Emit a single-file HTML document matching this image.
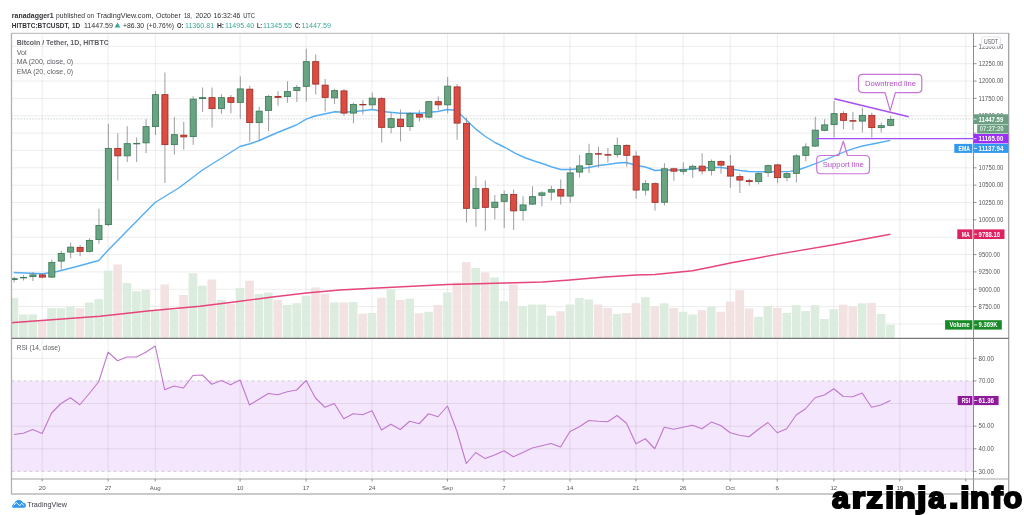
<!DOCTYPE html>
<html><head><meta charset="utf-8"><title>BTCUSDT</title>
<style>html,body{margin:0;padding:0;background:#fff;}svg{display:block;filter:blur(0.45px);}text{font-family:"Liberation Sans",sans-serif;}</style></head><body>
<svg width="1024" height="515" viewBox="0 0 1024 515">
<rect width="1024" height="515" fill="#fff"/>
<defs><clipPath id="cm"><rect x="11.5" y="33.3" width="962.0" height="305.09999999999997"/></clipPath><clipPath id="cr"><rect x="11.5" y="338.4" width="962.0" height="140.60000000000002"/></clipPath></defs>
<rect x="11.5" y="380.9" width="962.0" height="90.5" fill="#f4e6fc"/>
<path d="M42.15 33.3V479.0 M108.12 33.3V479.0 M155.25 33.3V479.0 M240.07 33.3V479.0 M306.05 33.3V479.0 M372.02 33.3V479.0 M447.42 33.3V479.0 M503.97 33.3V479.0 M569.95 33.3V479.0 M635.92 33.3V479.0 M683.05 33.3V479.0 M730.17 33.3V479.0 M777.30 33.3V479.0 M833.85 33.3V479.0 M899.82 33.3V479.0 M965.80 33.3V479.0 M11.5 323.95H973.5 M11.5 306.60H973.5 M11.5 289.25H973.5 M11.5 271.90H973.5 M11.5 254.55H973.5 M11.5 237.20H973.5 M11.5 219.85H973.5 M11.5 202.50H973.5 M11.5 185.15H973.5 M11.5 167.80H973.5 M11.5 150.45H973.5 M11.5 133.10H973.5 M11.5 115.75H973.5 M11.5 98.40H973.5 M11.5 81.05H973.5 M11.5 63.70H973.5 M11.5 46.35H973.5 M11.5 358.27H973.5 M11.5 403.52H973.5 M11.5 426.15H973.5 M11.5 448.77H973.5" stroke="#000" stroke-opacity="0.075" stroke-width="1" fill="none"/>
<path d="M11.5 380.9H973.5M11.5 471.4H973.5" stroke="#c4c4cc" stroke-width="0.8" stroke-dasharray="3 3" fill="none"/>
<path d="M11.5 118.9H973.5" stroke="#a3bdb0" stroke-width="0.8" stroke-dasharray="1.5 1.5" fill="none" opacity="0.7"/>
<g clip-path="url(#cm)">
<rect x="9.57" y="298.00" width="8.6" height="40.40" fill="#d9eadc" fill-opacity="0.92"/>
<rect x="19.00" y="314.50" width="8.6" height="23.90" fill="#d9eadc" fill-opacity="0.92"/>
<rect x="28.42" y="314.50" width="8.6" height="23.90" fill="#d9eadc" fill-opacity="0.92"/>
<rect x="37.85" y="320.50" width="8.6" height="17.90" fill="#f1dfe0" fill-opacity="0.92"/>
<rect x="47.27" y="308.25" width="8.6" height="30.15" fill="#d9eadc" fill-opacity="0.92"/>
<rect x="56.70" y="308.25" width="8.6" height="30.15" fill="#d9eadc" fill-opacity="0.92"/>
<rect x="66.12" y="306.75" width="8.6" height="31.65" fill="#d9eadc" fill-opacity="0.92"/>
<rect x="75.55" y="308.25" width="8.6" height="30.15" fill="#f1dfe0" fill-opacity="0.92"/>
<rect x="84.97" y="302.50" width="8.6" height="35.90" fill="#d9eadc" fill-opacity="0.92"/>
<rect x="94.40" y="299.25" width="8.6" height="39.15" fill="#d9eadc" fill-opacity="0.92"/>
<rect x="103.82" y="270.75" width="8.6" height="67.65" fill="#d9eadc" fill-opacity="0.92"/>
<rect x="113.25" y="264.50" width="8.6" height="73.90" fill="#f1dfe0" fill-opacity="0.92"/>
<rect x="122.67" y="283.00" width="8.6" height="55.40" fill="#d9eadc" fill-opacity="0.92"/>
<rect x="132.10" y="291.25" width="8.6" height="47.15" fill="#d9eadc" fill-opacity="0.92"/>
<rect x="141.52" y="290.00" width="8.6" height="48.40" fill="#d9eadc" fill-opacity="0.92"/>
<rect x="150.95" y="311.00" width="8.6" height="27.40" fill="#d9eadc" fill-opacity="0.92"/>
<rect x="160.37" y="284.50" width="8.6" height="53.90" fill="#f1dfe0" fill-opacity="0.92"/>
<rect x="169.80" y="310.00" width="8.6" height="28.40" fill="#d9eadc" fill-opacity="0.92"/>
<rect x="179.22" y="295.00" width="8.6" height="43.40" fill="#f1dfe0" fill-opacity="0.92"/>
<rect x="188.65" y="273.25" width="8.6" height="65.15" fill="#d9eadc" fill-opacity="0.92"/>
<rect x="198.07" y="285.75" width="8.6" height="52.65" fill="#d9eadc" fill-opacity="0.92"/>
<rect x="207.50" y="279.50" width="8.6" height="58.90" fill="#f1dfe0" fill-opacity="0.92"/>
<rect x="216.92" y="300.00" width="8.6" height="38.40" fill="#d9eadc" fill-opacity="0.92"/>
<rect x="226.35" y="303.75" width="8.6" height="34.65" fill="#f1dfe0" fill-opacity="0.92"/>
<rect x="235.77" y="288.00" width="8.6" height="50.40" fill="#d9eadc" fill-opacity="0.92"/>
<rect x="245.20" y="280.75" width="8.6" height="57.65" fill="#f1dfe0" fill-opacity="0.92"/>
<rect x="254.62" y="294.00" width="8.6" height="44.40" fill="#d9eadc" fill-opacity="0.92"/>
<rect x="264.05" y="292.50" width="8.6" height="45.90" fill="#d9eadc" fill-opacity="0.92"/>
<rect x="273.47" y="300.00" width="8.6" height="38.40" fill="#f1dfe0" fill-opacity="0.92"/>
<rect x="282.90" y="305.00" width="8.6" height="33.40" fill="#d9eadc" fill-opacity="0.92"/>
<rect x="292.32" y="303.25" width="8.6" height="35.15" fill="#d9eadc" fill-opacity="0.92"/>
<rect x="301.75" y="295.75" width="8.6" height="42.65" fill="#d9eadc" fill-opacity="0.92"/>
<rect x="311.17" y="287.50" width="8.6" height="50.90" fill="#f1dfe0" fill-opacity="0.92"/>
<rect x="320.60" y="293.75" width="8.6" height="44.65" fill="#f1dfe0" fill-opacity="0.92"/>
<rect x="330.02" y="302.50" width="8.6" height="35.90" fill="#d9eadc" fill-opacity="0.92"/>
<rect x="339.45" y="302.50" width="8.6" height="35.90" fill="#f1dfe0" fill-opacity="0.92"/>
<rect x="348.87" y="302.00" width="8.6" height="36.40" fill="#d9eadc" fill-opacity="0.92"/>
<rect x="358.30" y="313.75" width="8.6" height="24.65" fill="#f1dfe0" fill-opacity="0.92"/>
<rect x="367.72" y="313.00" width="8.6" height="25.40" fill="#d9eadc" fill-opacity="0.92"/>
<rect x="377.15" y="297.75" width="8.6" height="40.65" fill="#f1dfe0" fill-opacity="0.92"/>
<rect x="386.57" y="289.50" width="8.6" height="48.90" fill="#d9eadc" fill-opacity="0.92"/>
<rect x="396.00" y="300.00" width="8.6" height="38.40" fill="#f1dfe0" fill-opacity="0.92"/>
<rect x="405.42" y="298.75" width="8.6" height="39.65" fill="#d9eadc" fill-opacity="0.92"/>
<rect x="414.85" y="313.25" width="8.6" height="25.15" fill="#f1dfe0" fill-opacity="0.92"/>
<rect x="424.27" y="311.75" width="8.6" height="26.65" fill="#d9eadc" fill-opacity="0.92"/>
<rect x="433.70" y="305.00" width="8.6" height="33.40" fill="#f1dfe0" fill-opacity="0.92"/>
<rect x="443.12" y="292.50" width="8.6" height="45.90" fill="#d9eadc" fill-opacity="0.92"/>
<rect x="452.55" y="282.50" width="8.6" height="55.90" fill="#f1dfe0" fill-opacity="0.92"/>
<rect x="461.97" y="262.00" width="8.6" height="76.40" fill="#f1dfe0" fill-opacity="0.92"/>
<rect x="471.40" y="268.00" width="8.6" height="70.40" fill="#d9eadc" fill-opacity="0.92"/>
<rect x="480.82" y="272.50" width="8.6" height="65.90" fill="#f1dfe0" fill-opacity="0.92"/>
<rect x="490.25" y="277.50" width="8.6" height="60.90" fill="#d9eadc" fill-opacity="0.92"/>
<rect x="499.67" y="301.25" width="8.6" height="37.15" fill="#d9eadc" fill-opacity="0.92"/>
<rect x="509.10" y="284.50" width="8.6" height="53.90" fill="#f1dfe0" fill-opacity="0.92"/>
<rect x="518.52" y="306.25" width="8.6" height="32.15" fill="#d9eadc" fill-opacity="0.92"/>
<rect x="527.95" y="304.50" width="8.6" height="33.90" fill="#d9eadc" fill-opacity="0.92"/>
<rect x="537.38" y="304.50" width="8.6" height="33.90" fill="#d9eadc" fill-opacity="0.92"/>
<rect x="546.80" y="315.75" width="8.6" height="22.65" fill="#d9eadc" fill-opacity="0.92"/>
<rect x="556.23" y="311.25" width="8.6" height="27.15" fill="#f1dfe0" fill-opacity="0.92"/>
<rect x="565.65" y="304.50" width="8.6" height="33.90" fill="#d9eadc" fill-opacity="0.92"/>
<rect x="575.08" y="298.00" width="8.6" height="40.40" fill="#d9eadc" fill-opacity="0.92"/>
<rect x="584.50" y="299.50" width="8.6" height="38.90" fill="#d9eadc" fill-opacity="0.92"/>
<rect x="593.92" y="304.50" width="8.6" height="33.90" fill="#f1dfe0" fill-opacity="0.92"/>
<rect x="603.35" y="308.00" width="8.6" height="30.40" fill="#f1dfe0" fill-opacity="0.92"/>
<rect x="612.77" y="314.00" width="8.6" height="24.40" fill="#d9eadc" fill-opacity="0.92"/>
<rect x="622.20" y="313.00" width="8.6" height="25.40" fill="#f1dfe0" fill-opacity="0.92"/>
<rect x="631.62" y="303.25" width="8.6" height="35.15" fill="#f1dfe0" fill-opacity="0.92"/>
<rect x="641.05" y="297.25" width="8.6" height="41.15" fill="#d9eadc" fill-opacity="0.92"/>
<rect x="650.48" y="306.50" width="8.6" height="31.90" fill="#f1dfe0" fill-opacity="0.92"/>
<rect x="659.90" y="303.25" width="8.6" height="35.15" fill="#d9eadc" fill-opacity="0.92"/>
<rect x="669.33" y="308.00" width="8.6" height="30.40" fill="#f1dfe0" fill-opacity="0.92"/>
<rect x="678.75" y="311.75" width="8.6" height="26.65" fill="#d9eadc" fill-opacity="0.92"/>
<rect x="688.17" y="314.50" width="8.6" height="23.90" fill="#d9eadc" fill-opacity="0.92"/>
<rect x="697.60" y="310.20" width="8.6" height="28.20" fill="#f1dfe0" fill-opacity="0.92"/>
<rect x="707.02" y="306.80" width="8.6" height="31.60" fill="#d9eadc" fill-opacity="0.92"/>
<rect x="716.45" y="311.75" width="8.6" height="26.65" fill="#f1dfe0" fill-opacity="0.92"/>
<rect x="725.88" y="301.60" width="8.6" height="36.80" fill="#f1dfe0" fill-opacity="0.92"/>
<rect x="735.30" y="290.30" width="8.6" height="48.10" fill="#f1dfe0" fill-opacity="0.92"/>
<rect x="744.73" y="308.50" width="8.6" height="29.90" fill="#f1dfe0" fill-opacity="0.92"/>
<rect x="754.15" y="316.80" width="8.6" height="21.60" fill="#d9eadc" fill-opacity="0.92"/>
<rect x="763.58" y="306.00" width="8.6" height="32.40" fill="#d9eadc" fill-opacity="0.92"/>
<rect x="773.00" y="308.00" width="8.6" height="30.40" fill="#f1dfe0" fill-opacity="0.92"/>
<rect x="782.42" y="313.00" width="8.6" height="25.40" fill="#d9eadc" fill-opacity="0.92"/>
<rect x="791.85" y="305.20" width="8.6" height="33.20" fill="#d9eadc" fill-opacity="0.92"/>
<rect x="801.27" y="311.00" width="8.6" height="27.40" fill="#d9eadc" fill-opacity="0.92"/>
<rect x="810.70" y="305.20" width="8.6" height="33.20" fill="#d9eadc" fill-opacity="0.92"/>
<rect x="820.12" y="319.00" width="8.6" height="19.40" fill="#d9eadc" fill-opacity="0.92"/>
<rect x="829.55" y="309.20" width="8.6" height="29.20" fill="#d9eadc" fill-opacity="0.92"/>
<rect x="838.98" y="304.70" width="8.6" height="33.70" fill="#f1dfe0" fill-opacity="0.92"/>
<rect x="848.40" y="306.70" width="8.6" height="31.70" fill="#f1dfe0" fill-opacity="0.92"/>
<rect x="857.83" y="303.40" width="8.6" height="35.00" fill="#d9eadc" fill-opacity="0.92"/>
<rect x="867.25" y="302.90" width="8.6" height="35.50" fill="#f1dfe0" fill-opacity="0.92"/>
<rect x="876.68" y="314.00" width="8.6" height="24.40" fill="#d9eadc" fill-opacity="0.92"/>
<rect x="886.10" y="324.90" width="8.6" height="13.50" fill="#d9eadc" fill-opacity="0.92"/>
</g>
<g clip-path="url(#cm)">
<polyline points="12,322.7 13.75,322.5 100,316.25 150,310.75 200,306.25 240,301.25 272.5,297 306.25,293 340,290 372.5,288.25 407.5,286.5 447.5,284.5 477.5,283.75 505,283 542.5,282 570,280 605,277 636.25,275 655,274.5 692.5,270.75 711.25,267 730.3,263 777,254.4 833.8,244.8 890.4,234.2" fill="none" stroke="#e6457b" stroke-width="1.4" stroke-linejoin="round"/>
<polyline points="13.75,272.5 30,273.2 42.5,273.75 55,272 75,267 98.75,260.5 108.25,250 155,202.5 178.75,188 202.5,170 221.25,158.25 240,146.5 250,143.75 258.75,140.75 277.5,132.5 296.25,125 306.25,119.1 315,116 335,111.75 345,112.25 362.5,110.75 372.5,109.5 382.5,111.5 400,113.25 410,113.25 420,113.25 437.5,111.5 447.5,109.5 455,110.25 460.6,114.4 466.25,120 476.25,129.4 485,136.25 495,142.5 505,147.5 515,153.1 525,157.75 535,161.25 543.75,164 551.25,166.75 560.75,169.5 570,169.5 579.25,168.75 588.75,167.5 598.75,165.5 607.5,164.5 617.5,163 626.25,162.5 636.25,165.5 645.5,167 655,170.5 664.25,170 673.75,170 683,169.8 692.5,169 702.5,168 711.25,167.5 721.25,167.5 730,168.75 740,170.5 748.75,171.5 758.75,171.75 768.75,171.75 777.5,171.75 790,171.4 799.4,169.5 807.5,166.6 816.9,163.2 827.5,158.8 838.75,154.1 847.5,150.7 855,148.2 862.5,146 876.25,143.2 890.4,140.4" fill="none" stroke="#55adf5" stroke-width="1.4" stroke-linejoin="round"/>
<path d="M14.12 276.75V282.5" stroke="#85858a" stroke-width="0.8"/>
<rect x="11.07" y="278.65" width="6.1" height="0.95" fill="#69a482" stroke="#3c7a57" stroke-width="0.85"/>
<path d="M23.55 275.0V280.5" stroke="#85858a" stroke-width="0.8"/>
<rect x="20.50" y="277.4" width="6.1" height="0.50" fill="#3c7a57" stroke="#3c7a57" stroke-width="0.85"/>
<path d="M32.97 272.0V281.0" stroke="#85858a" stroke-width="0.8"/>
<rect x="29.92" y="274.9" width="6.1" height="1.70" fill="#69a482" stroke="#3c7a57" stroke-width="0.85"/>
<path d="M42.40 274.0V278.5" stroke="#85858a" stroke-width="0.8"/>
<rect x="39.35" y="274.9" width="6.1" height="2.20" fill="#db4d42" stroke="#a02e27" stroke-width="0.85"/>
<path d="M51.82 259.5V278.0" stroke="#85858a" stroke-width="0.8"/>
<rect x="48.77" y="262.4" width="6.1" height="14.70" fill="#69a482" stroke="#3c7a57" stroke-width="0.85"/>
<path d="M61.25 250.75V269.5" stroke="#85858a" stroke-width="0.8"/>
<rect x="58.20" y="253.4" width="6.1" height="7.70" fill="#69a482" stroke="#3c7a57" stroke-width="0.85"/>
<path d="M70.67 242.5V258.25" stroke="#85858a" stroke-width="0.8"/>
<rect x="67.62" y="247.15" width="6.1" height="4.95" fill="#69a482" stroke="#3c7a57" stroke-width="0.85"/>
<path d="M80.10 245.0V256.25" stroke="#85858a" stroke-width="0.8"/>
<rect x="77.05" y="247.4" width="6.1" height="3.95" fill="#db4d42" stroke="#a02e27" stroke-width="0.85"/>
<path d="M89.52 238.25V252.5" stroke="#85858a" stroke-width="0.8"/>
<rect x="86.47" y="240.4" width="6.1" height="10.95" fill="#69a482" stroke="#3c7a57" stroke-width="0.85"/>
<path d="M98.95 208.75V243.75" stroke="#85858a" stroke-width="0.8"/>
<rect x="95.90" y="225.4" width="6.1" height="14.20" fill="#69a482" stroke="#3c7a57" stroke-width="0.85"/>
<path d="M108.37 123.75V226.0" stroke="#85858a" stroke-width="0.8"/>
<rect x="105.32" y="148.4" width="6.1" height="76.20" fill="#69a482" stroke="#3c7a57" stroke-width="0.85"/>
<path d="M117.80 133.25V180.5" stroke="#85858a" stroke-width="0.8"/>
<rect x="114.75" y="148.4" width="6.1" height="7.45" fill="#db4d42" stroke="#a02e27" stroke-width="0.85"/>
<path d="M127.22 126.25V162.0" stroke="#85858a" stroke-width="0.8"/>
<rect x="124.17" y="143.65" width="6.1" height="12.20" fill="#69a482" stroke="#3c7a57" stroke-width="0.85"/>
<path d="M136.65 137.5V162.0" stroke="#85858a" stroke-width="0.8"/>
<rect x="133.60" y="143.4" width="6.1" height="0.50" fill="#3c7a57" stroke="#3c7a57" stroke-width="0.85"/>
<path d="M146.07 119.25V153.0" stroke="#85858a" stroke-width="0.8"/>
<rect x="143.02" y="126.65" width="6.1" height="16.20" fill="#69a482" stroke="#3c7a57" stroke-width="0.85"/>
<path d="M155.50 91.25V135.0" stroke="#85858a" stroke-width="0.8"/>
<rect x="152.45" y="94.65" width="6.1" height="31.95" fill="#69a482" stroke="#3c7a57" stroke-width="0.85"/>
<path d="M164.92 72.5V183.0" stroke="#85858a" stroke-width="0.8"/>
<rect x="161.87" y="94.65" width="6.1" height="49.95" fill="#db4d42" stroke="#a02e27" stroke-width="0.85"/>
<path d="M174.35 117.0V154.5" stroke="#85858a" stroke-width="0.8"/>
<rect x="171.30" y="134.65" width="6.1" height="9.95" fill="#69a482" stroke="#3c7a57" stroke-width="0.85"/>
<path d="M183.77 121.75V149.5" stroke="#85858a" stroke-width="0.8"/>
<rect x="180.72" y="135.15" width="6.1" height="1.70" fill="#db4d42" stroke="#a02e27" stroke-width="0.85"/>
<path d="M193.20 96.25V145.0" stroke="#85858a" stroke-width="0.8"/>
<rect x="190.15" y="99.15" width="6.1" height="37.45" fill="#69a482" stroke="#3c7a57" stroke-width="0.85"/>
<path d="M202.62 87.5V112.0" stroke="#85858a" stroke-width="0.8"/>
<rect x="199.57" y="97.65" width="6.1" height="0.95" fill="#69a482" stroke="#3c7a57" stroke-width="0.85"/>
<path d="M212.05 87.5V127.5" stroke="#85858a" stroke-width="0.8"/>
<rect x="209.00" y="97.65" width="6.1" height="10.95" fill="#db4d42" stroke="#a02e27" stroke-width="0.85"/>
<path d="M221.47 94.25V113.75" stroke="#85858a" stroke-width="0.8"/>
<rect x="218.42" y="97.65" width="6.1" height="10.95" fill="#69a482" stroke="#3c7a57" stroke-width="0.85"/>
<path d="M230.90 95.0V113.25" stroke="#85858a" stroke-width="0.8"/>
<rect x="227.85" y="97.65" width="6.1" height="4.70" fill="#db4d42" stroke="#a02e27" stroke-width="0.85"/>
<path d="M240.32 76.25V118.75" stroke="#85858a" stroke-width="0.8"/>
<rect x="237.27" y="88.9" width="6.1" height="13.45" fill="#69a482" stroke="#3c7a57" stroke-width="0.85"/>
<path d="M249.75 85.75V141.75" stroke="#85858a" stroke-width="0.8"/>
<rect x="246.70" y="89.15" width="6.1" height="33.45" fill="#db4d42" stroke="#a02e27" stroke-width="0.85"/>
<path d="M259.17 107.0V140.5" stroke="#85858a" stroke-width="0.8"/>
<rect x="256.12" y="111.15" width="6.1" height="11.45" fill="#69a482" stroke="#3c7a57" stroke-width="0.85"/>
<path d="M268.60 95.0V131.25" stroke="#85858a" stroke-width="0.8"/>
<rect x="265.55" y="96.4" width="6.1" height="13.95" fill="#69a482" stroke="#3c7a57" stroke-width="0.85"/>
<path d="M278.02 91.25V105.75" stroke="#85858a" stroke-width="0.8"/>
<rect x="274.97" y="96.4" width="6.1" height="0.95" fill="#db4d42" stroke="#a02e27" stroke-width="0.85"/>
<path d="M287.45 81.25V102.75" stroke="#85858a" stroke-width="0.8"/>
<rect x="284.40" y="91.65" width="6.1" height="4.95" fill="#69a482" stroke="#3c7a57" stroke-width="0.85"/>
<path d="M296.87 85.0V102.0" stroke="#85858a" stroke-width="0.8"/>
<rect x="293.82" y="87.4" width="6.1" height="3.20" fill="#69a482" stroke="#3c7a57" stroke-width="0.85"/>
<path d="M306.30 48.75V101.5" stroke="#85858a" stroke-width="0.8"/>
<rect x="303.25" y="61.65" width="6.1" height="24.70" fill="#69a482" stroke="#3c7a57" stroke-width="0.85"/>
<path d="M315.72 54.5V94.5" stroke="#85858a" stroke-width="0.8"/>
<rect x="312.67" y="61.65" width="6.1" height="22.45" fill="#db4d42" stroke="#a02e27" stroke-width="0.85"/>
<path d="M325.15 79.0V111.5" stroke="#85858a" stroke-width="0.8"/>
<rect x="322.10" y="85.15" width="6.1" height="12.20" fill="#db4d42" stroke="#a02e27" stroke-width="0.85"/>
<path d="M334.57 88.75V104.0" stroke="#85858a" stroke-width="0.8"/>
<rect x="331.52" y="90.65" width="6.1" height="7.20" fill="#69a482" stroke="#3c7a57" stroke-width="0.85"/>
<path d="M344.00 89.0V115.75" stroke="#85858a" stroke-width="0.8"/>
<rect x="340.95" y="90.9" width="6.1" height="22.20" fill="#db4d42" stroke="#a02e27" stroke-width="0.85"/>
<path d="M353.42 102.75V123.25" stroke="#85858a" stroke-width="0.8"/>
<rect x="350.37" y="104.4" width="6.1" height="8.70" fill="#69a482" stroke="#3c7a57" stroke-width="0.85"/>
<path d="M362.85 100.25V114.5" stroke="#85858a" stroke-width="0.8"/>
<rect x="359.80" y="104.4" width="6.1" height="0.50" fill="#a02e27" stroke="#a02e27" stroke-width="0.85"/>
<path d="M372.27 92.5V109.0" stroke="#85858a" stroke-width="0.8"/>
<rect x="369.22" y="98.15" width="6.1" height="6.70" fill="#69a482" stroke="#3c7a57" stroke-width="0.85"/>
<path d="M381.70 97.0V142.5" stroke="#85858a" stroke-width="0.8"/>
<rect x="378.65" y="98.65" width="6.1" height="28.70" fill="#db4d42" stroke="#a02e27" stroke-width="0.85"/>
<path d="M391.12 112.5V133.25" stroke="#85858a" stroke-width="0.8"/>
<rect x="388.07" y="118.65" width="6.1" height="8.70" fill="#69a482" stroke="#3c7a57" stroke-width="0.85"/>
<path d="M400.55 109.5V141.5" stroke="#85858a" stroke-width="0.8"/>
<rect x="397.50" y="119.15" width="6.1" height="7.45" fill="#db4d42" stroke="#a02e27" stroke-width="0.85"/>
<path d="M409.97 112.0V130.75" stroke="#85858a" stroke-width="0.8"/>
<rect x="406.92" y="113.65" width="6.1" height="12.95" fill="#69a482" stroke="#3c7a57" stroke-width="0.85"/>
<path d="M419.40 110.0V121.5" stroke="#85858a" stroke-width="0.8"/>
<rect x="416.35" y="114.4" width="6.1" height="2.70" fill="#db4d42" stroke="#a02e27" stroke-width="0.85"/>
<path d="M428.82 100.75V118.25" stroke="#85858a" stroke-width="0.8"/>
<rect x="425.77" y="101.65" width="6.1" height="15.45" fill="#69a482" stroke="#3c7a57" stroke-width="0.85"/>
<path d="M438.25 96.5V110.0" stroke="#85858a" stroke-width="0.8"/>
<rect x="435.20" y="101.65" width="6.1" height="3.20" fill="#db4d42" stroke="#a02e27" stroke-width="0.85"/>
<path d="M447.67 77.0V113.25" stroke="#85858a" stroke-width="0.8"/>
<rect x="444.62" y="86.15" width="6.1" height="18.70" fill="#69a482" stroke="#3c7a57" stroke-width="0.85"/>
<path d="M457.10 84.0V139.75" stroke="#85858a" stroke-width="0.8"/>
<rect x="454.05" y="86.9" width="6.1" height="36.20" fill="#db4d42" stroke="#a02e27" stroke-width="0.85"/>
<path d="M466.52 117.5V222.5" stroke="#85858a" stroke-width="0.8"/>
<rect x="463.47" y="123.4" width="6.1" height="84.95" fill="#db4d42" stroke="#a02e27" stroke-width="0.85"/>
<path d="M475.95 176.25V226.75" stroke="#85858a" stroke-width="0.8"/>
<rect x="472.90" y="188.65" width="6.1" height="19.70" fill="#69a482" stroke="#3c7a57" stroke-width="0.85"/>
<path d="M485.37 180.5V230.75" stroke="#85858a" stroke-width="0.8"/>
<rect x="482.32" y="188.65" width="6.1" height="18.70" fill="#db4d42" stroke="#a02e27" stroke-width="0.85"/>
<path d="M494.80 195.0V219.5" stroke="#85858a" stroke-width="0.8"/>
<rect x="491.75" y="202.15" width="6.1" height="5.20" fill="#69a482" stroke="#3c7a57" stroke-width="0.85"/>
<path d="M504.22 190.5V228.0" stroke="#85858a" stroke-width="0.8"/>
<rect x="501.17" y="194.4" width="6.1" height="6.95" fill="#69a482" stroke="#3c7a57" stroke-width="0.85"/>
<path d="M513.65 189.5V230.0" stroke="#85858a" stroke-width="0.8"/>
<rect x="510.60" y="194.4" width="6.1" height="16.45" fill="#db4d42" stroke="#a02e27" stroke-width="0.85"/>
<path d="M523.07 196.25V220.5" stroke="#85858a" stroke-width="0.8"/>
<rect x="520.02" y="204.9" width="6.1" height="5.45" fill="#69a482" stroke="#3c7a57" stroke-width="0.85"/>
<path d="M532.50 186.25V205.0" stroke="#85858a" stroke-width="0.8"/>
<rect x="529.45" y="196.65" width="6.1" height="7.45" fill="#69a482" stroke="#3c7a57" stroke-width="0.85"/>
<path d="M541.92 191.25V206.25" stroke="#85858a" stroke-width="0.8"/>
<rect x="538.88" y="192.9" width="6.1" height="2.45" fill="#69a482" stroke="#3c7a57" stroke-width="0.85"/>
<path d="M551.35 185.75V200.5" stroke="#85858a" stroke-width="0.8"/>
<rect x="548.30" y="189.65" width="6.1" height="2.45" fill="#69a482" stroke="#3c7a57" stroke-width="0.85"/>
<path d="M560.77 179.5V204.5" stroke="#85858a" stroke-width="0.8"/>
<rect x="557.73" y="189.4" width="6.1" height="6.70" fill="#db4d42" stroke="#a02e27" stroke-width="0.85"/>
<path d="M570.20 167.0V202.5" stroke="#85858a" stroke-width="0.8"/>
<rect x="567.15" y="172.9" width="6.1" height="23.20" fill="#69a482" stroke="#3c7a57" stroke-width="0.85"/>
<path d="M579.62 155.0V177.5" stroke="#85858a" stroke-width="0.8"/>
<rect x="576.58" y="165.9" width="6.1" height="6.20" fill="#69a482" stroke="#3c7a57" stroke-width="0.85"/>
<path d="M589.05 143.75V173.0" stroke="#85858a" stroke-width="0.8"/>
<rect x="586.00" y="153.65" width="6.1" height="10.95" fill="#69a482" stroke="#3c7a57" stroke-width="0.85"/>
<path d="M598.47 146.75V167.5" stroke="#85858a" stroke-width="0.8"/>
<rect x="595.42" y="153.65" width="6.1" height="0.50" fill="#a02e27" stroke="#a02e27" stroke-width="0.85"/>
<path d="M607.90 148.0V162.5" stroke="#85858a" stroke-width="0.8"/>
<rect x="604.85" y="154.65" width="6.1" height="0.50" fill="#a02e27" stroke="#a02e27" stroke-width="0.85"/>
<path d="M617.32 137.5V157.5" stroke="#85858a" stroke-width="0.8"/>
<rect x="614.27" y="145.4" width="6.1" height="9.20" fill="#69a482" stroke="#3c7a57" stroke-width="0.85"/>
<path d="M626.75 144.25V166.75" stroke="#85858a" stroke-width="0.8"/>
<rect x="623.70" y="145.4" width="6.1" height="9.95" fill="#db4d42" stroke="#a02e27" stroke-width="0.85"/>
<path d="M636.17 151.25V198.75" stroke="#85858a" stroke-width="0.8"/>
<rect x="633.12" y="156.15" width="6.1" height="33.95" fill="#db4d42" stroke="#a02e27" stroke-width="0.85"/>
<path d="M645.60 180.0V195.5" stroke="#85858a" stroke-width="0.8"/>
<rect x="642.55" y="183.65" width="6.1" height="6.45" fill="#69a482" stroke="#3c7a57" stroke-width="0.85"/>
<path d="M655.02 182.5V210.5" stroke="#85858a" stroke-width="0.8"/>
<rect x="651.98" y="183.65" width="6.1" height="18.70" fill="#db4d42" stroke="#a02e27" stroke-width="0.85"/>
<path d="M664.45 163.25V205.5" stroke="#85858a" stroke-width="0.8"/>
<rect x="661.40" y="168.8" width="6.1" height="33.40" fill="#69a482" stroke="#3c7a57" stroke-width="0.85"/>
<path d="M673.88 167.75V180.75" stroke="#85858a" stroke-width="0.8"/>
<rect x="670.83" y="168.8" width="6.1" height="2.40" fill="#db4d42" stroke="#a02e27" stroke-width="0.85"/>
<path d="M683.30 162.25V174.75" stroke="#85858a" stroke-width="0.8"/>
<rect x="680.25" y="169.65" width="6.1" height="1.70" fill="#69a482" stroke="#3c7a57" stroke-width="0.85"/>
<path d="M692.72 164.5V178.0" stroke="#85858a" stroke-width="0.8"/>
<rect x="689.67" y="166.3" width="6.1" height="2.70" fill="#69a482" stroke="#3c7a57" stroke-width="0.85"/>
<path d="M702.15 153.25V174.5" stroke="#85858a" stroke-width="0.8"/>
<rect x="699.10" y="166.15" width="6.1" height="4.70" fill="#db4d42" stroke="#a02e27" stroke-width="0.85"/>
<path d="M711.57 159.5V175.5" stroke="#85858a" stroke-width="0.8"/>
<rect x="708.52" y="161.4" width="6.1" height="8.95" fill="#69a482" stroke="#3c7a57" stroke-width="0.85"/>
<path d="M721.00 160.5V173.75" stroke="#85858a" stroke-width="0.8"/>
<rect x="717.95" y="161.4" width="6.1" height="3.70" fill="#db4d42" stroke="#a02e27" stroke-width="0.85"/>
<path d="M730.42 155.0V188.0" stroke="#85858a" stroke-width="0.8"/>
<rect x="727.38" y="166.15" width="6.1" height="9.95" fill="#db4d42" stroke="#a02e27" stroke-width="0.85"/>
<path d="M739.85 173.75V193.0" stroke="#85858a" stroke-width="0.8"/>
<rect x="736.80" y="176.65" width="6.1" height="3.45" fill="#db4d42" stroke="#a02e27" stroke-width="0.85"/>
<path d="M749.27 178.75V185.5" stroke="#85858a" stroke-width="0.8"/>
<rect x="746.23" y="180.65" width="6.1" height="0.95" fill="#db4d42" stroke="#a02e27" stroke-width="0.85"/>
<path d="M758.70 172.5V184.25" stroke="#85858a" stroke-width="0.8"/>
<rect x="755.65" y="173.65" width="6.1" height="7.95" fill="#69a482" stroke="#3c7a57" stroke-width="0.85"/>
<path d="M768.12 164.5V177.0" stroke="#85858a" stroke-width="0.8"/>
<rect x="765.08" y="165.65" width="6.1" height="6.95" fill="#69a482" stroke="#3c7a57" stroke-width="0.85"/>
<path d="M777.55 163.75V183.25" stroke="#85858a" stroke-width="0.8"/>
<rect x="774.50" y="164.9" width="6.1" height="12.70" fill="#db4d42" stroke="#a02e27" stroke-width="0.85"/>
<path d="M786.97 171.25V181.25" stroke="#85858a" stroke-width="0.8"/>
<rect x="783.92" y="173.65" width="6.1" height="3.70" fill="#69a482" stroke="#3c7a57" stroke-width="0.85"/>
<path d="M796.40 154.25V182.5" stroke="#85858a" stroke-width="0.8"/>
<rect x="793.35" y="155.9" width="6.1" height="17.45" fill="#69a482" stroke="#3c7a57" stroke-width="0.85"/>
<path d="M805.82 143.25V161.25" stroke="#85858a" stroke-width="0.8"/>
<rect x="802.77" y="146.9" width="6.1" height="8.45" fill="#69a482" stroke="#3c7a57" stroke-width="0.85"/>
<path d="M815.25 116.75V147.0" stroke="#85858a" stroke-width="0.8"/>
<rect x="812.20" y="130.15" width="6.1" height="15.95" fill="#69a482" stroke="#3c7a57" stroke-width="0.85"/>
<path d="M824.67 119.25V131.25" stroke="#85858a" stroke-width="0.8"/>
<rect x="821.62" y="124.9" width="6.1" height="5.45" fill="#69a482" stroke="#3c7a57" stroke-width="0.85"/>
<path d="M834.10 100.75V137.5" stroke="#85858a" stroke-width="0.8"/>
<rect x="831.05" y="113.65" width="6.1" height="10.95" fill="#69a482" stroke="#3c7a57" stroke-width="0.85"/>
<path d="M843.52 111.25V129.25" stroke="#85858a" stroke-width="0.8"/>
<rect x="840.48" y="113.65" width="6.1" height="6.70" fill="#db4d42" stroke="#a02e27" stroke-width="0.85"/>
<path d="M852.95 112.0V130.0" stroke="#85858a" stroke-width="0.8"/>
<rect x="849.90" y="120.65" width="6.1" height="0.50" fill="#a02e27" stroke="#a02e27" stroke-width="0.85"/>
<path d="M862.38 107.5V132.5" stroke="#85858a" stroke-width="0.8"/>
<rect x="859.33" y="115.4" width="6.1" height="5.70" fill="#69a482" stroke="#3c7a57" stroke-width="0.85"/>
<path d="M871.80 112.5V137.5" stroke="#85858a" stroke-width="0.8"/>
<rect x="868.75" y="115.4" width="6.1" height="12.20" fill="#db4d42" stroke="#a02e27" stroke-width="0.85"/>
<path d="M881.23 122.5V132.5" stroke="#85858a" stroke-width="0.8"/>
<rect x="878.18" y="125.65" width="6.1" height="1.95" fill="#69a482" stroke="#3c7a57" stroke-width="0.85"/>
<path d="M890.65 115.75V126.5" stroke="#85858a" stroke-width="0.8"/>
<rect x="887.60" y="119.4" width="6.1" height="5.95" fill="#69a482" stroke="#3c7a57" stroke-width="0.85"/>
</g>
<g clip-path="url(#cr)">
<polyline points="13.87,434.5 23.30,433.25 32.72,429.5 42.15,433.5 51.57,413 61.00,403.5 70.42,397.75 79.85,404.75 89.27,393.5 98.70,381.75 108.12,352.25 117.55,360.75 126.97,357 136.40,357 145.82,352.25 155.25,346 164.67,389.75 174.10,386 183.52,388 192.95,375.5 202.37,375 211.80,384.25 221.22,380.5 230.65,384.75 240.07,380 249.50,405 258.92,399.25 268.35,393.5 277.77,394.75 287.20,391.75 296.62,390 306.05,380.5 315.47,398 324.90,407.25 334.32,403.5 343.75,418.75 353.17,413.75 362.60,414.75 372.02,410.75 381.45,430 390.87,424.25 400.30,429.5 409.72,421.25 419.15,423.75 428.57,413.75 438.00,416.75 447.42,406 456.85,431 466.27,463.5 475.70,452.5 485.12,458.6 494.55,455 503.97,450.75 513.40,456.75 522.82,452.5 532.25,448 541.67,445.75 551.10,443.5 560.52,447 569.95,431.5 579.38,426.75 588.80,420.5 598.22,421.25 607.65,421.75 617.07,415.5 626.50,423.25 635.92,443.75 645.35,438.75 654.77,448.75 664.20,427.25 673.62,429.25 683.05,427.25 692.47,425.25 701.90,428.75 711.32,422.1 720.75,425.5 730.17,432.75 739.60,435.25 749.02,436.75 758.45,429.25 767.88,422.5 777.30,432.75 786.72,428.75 796.15,415 805.57,408.75 815.00,397.75 824.42,395 833.85,388.75 843.27,396.5 852.70,396.75 862.12,393 871.55,407.25 880.98,405 890.40,400.5" fill="none" stroke="#c078cd" stroke-width="1.1" stroke-linejoin="round"/>
</g>
<path d="M815.5 138.5H973.5" stroke="#a44df6" stroke-width="1.25"/>
<path d="M834.25 98.75L908.75 116.75" stroke="#a850f5" stroke-width="1.6"/>
<path d="M862.5 74.3H917.8Q921.8 74.3 921.8 78.3V88.6Q921.8 92.6 917.8 92.6H895.4L890.2 110.6L885 92.6H862.5Q858.5 92.6 858.5 88.6V78.3Q858.5 74.3 862.5 74.3Z" fill="#fff" fill-opacity="0.15" stroke="#c774d6" stroke-width="1.2" stroke-linejoin="round"/>
<text x="890.5" y="86" font-size="7.6" fill="#b14fc8" text-anchor="middle" textLength="51" lengthAdjust="spacingAndGlyphs">Downtrend line</text>
<path d="M820.75 155.5H838.75L843.25 141.25L847.5 155.5H865.5Q869.5 155.5 869.5 159.5V169.75Q869.5 173.75 865.5 173.75H820.75Q816.75 173.75 816.75 169.75V159.5Q816.75 155.5 820.75 155.5Z" fill="#fff" fill-opacity="0.15" stroke="#c774d6" stroke-width="1.2" stroke-linejoin="round"/>
<text x="843.2" y="167" font-size="7.6" fill="#b14fc8" text-anchor="middle" textLength="41" lengthAdjust="spacingAndGlyphs">Support line</text>
<path d="M10.9 33.3H1009.3000000000001" stroke="#c2c2c4" stroke-width="1.3"/>
<path d="M11.5 33.3V494" stroke="#b2b2b5" stroke-width="1.3"/>
<path d="M1008.7 33.3V494" stroke="#9c9c9f" stroke-width="1.2"/>
<path d="M10.9 494H1009.3000000000001" stroke="#b8b8bb" stroke-width="1.4"/>
<path d="M973.5 33.3V494" stroke="#8c8c90" stroke-width="1.0"/>
<path d="M11.5 338.4H1008.7" stroke="#77777b" stroke-width="1.2"/>
<path d="M11.5 479.0H1008.7" stroke="#a5a5a8" stroke-width="1.2"/>
<path d="M973.5 306.60h3" stroke="#77777b" stroke-width="0.8"/>
<text x="978.6" y="308.90" font-size="6.5" fill="#55565c" textLength="21.4" lengthAdjust="spacingAndGlyphs">8750.00</text>
<path d="M973.5 289.25h3" stroke="#77777b" stroke-width="0.8"/>
<text x="978.6" y="291.55" font-size="6.5" fill="#55565c" textLength="21.4" lengthAdjust="spacingAndGlyphs">9000.00</text>
<path d="M973.5 271.90h3" stroke="#77777b" stroke-width="0.8"/>
<text x="978.6" y="274.20" font-size="6.5" fill="#55565c" textLength="21.4" lengthAdjust="spacingAndGlyphs">9250.00</text>
<path d="M973.5 254.55h3" stroke="#77777b" stroke-width="0.8"/>
<text x="978.6" y="256.85" font-size="6.5" fill="#55565c" textLength="21.4" lengthAdjust="spacingAndGlyphs">9500.00</text>
<path d="M973.5 237.20h3" stroke="#77777b" stroke-width="0.8"/>
<path d="M973.5 219.85h3" stroke="#77777b" stroke-width="0.8"/>
<text x="978.6" y="222.15" font-size="6.5" fill="#55565c" textLength="24.7" lengthAdjust="spacingAndGlyphs">10000.00</text>
<path d="M973.5 202.50h3" stroke="#77777b" stroke-width="0.8"/>
<text x="978.6" y="204.80" font-size="6.5" fill="#55565c" textLength="24.7" lengthAdjust="spacingAndGlyphs">10250.00</text>
<path d="M973.5 185.15h3" stroke="#77777b" stroke-width="0.8"/>
<text x="978.6" y="187.45" font-size="6.5" fill="#55565c" textLength="24.7" lengthAdjust="spacingAndGlyphs">10500.00</text>
<path d="M973.5 167.80h3" stroke="#77777b" stroke-width="0.8"/>
<text x="978.6" y="170.10" font-size="6.5" fill="#55565c" textLength="24.7" lengthAdjust="spacingAndGlyphs">10750.00</text>
<path d="M973.5 150.45h3" stroke="#77777b" stroke-width="0.8"/>
<path d="M973.5 133.10h3" stroke="#77777b" stroke-width="0.8"/>
<path d="M973.5 115.75h3" stroke="#77777b" stroke-width="0.8"/>
<text x="978.6" y="118.05" font-size="6.5" fill="#55565c" textLength="24.7" lengthAdjust="spacingAndGlyphs">11500.00</text>
<path d="M973.5 98.40h3" stroke="#77777b" stroke-width="0.8"/>
<text x="978.6" y="100.70" font-size="6.5" fill="#55565c" textLength="24.7" lengthAdjust="spacingAndGlyphs">11750.00</text>
<path d="M973.5 81.05h3" stroke="#77777b" stroke-width="0.8"/>
<text x="978.6" y="83.35" font-size="6.5" fill="#55565c" textLength="24.7" lengthAdjust="spacingAndGlyphs">12000.00</text>
<path d="M973.5 63.70h3" stroke="#77777b" stroke-width="0.8"/>
<text x="978.6" y="66.00" font-size="6.5" fill="#55565c" textLength="24.7" lengthAdjust="spacingAndGlyphs">12250.00</text>
<path d="M973.5 46.35h3" stroke="#77777b" stroke-width="0.8"/>
<text x="978.6" y="48.65" font-size="6.5" fill="#55565c" textLength="24.7" lengthAdjust="spacingAndGlyphs">12500.00</text>
<path d="M973.5 358.27h3" stroke="#77777b" stroke-width="0.8"/>
<text x="978.6" y="360.57" font-size="6.5" fill="#55565c" textLength="15.2" lengthAdjust="spacingAndGlyphs">80.00</text>
<path d="M973.5 380.90h3" stroke="#77777b" stroke-width="0.8"/>
<text x="978.6" y="383.20" font-size="6.5" fill="#55565c" textLength="15.2" lengthAdjust="spacingAndGlyphs">70.00</text>
<path d="M973.5 403.52h3" stroke="#77777b" stroke-width="0.8"/>
<path d="M973.5 426.15h3" stroke="#77777b" stroke-width="0.8"/>
<text x="978.6" y="428.45" font-size="6.5" fill="#55565c" textLength="15.2" lengthAdjust="spacingAndGlyphs">50.00</text>
<path d="M973.5 448.77h3" stroke="#77777b" stroke-width="0.8"/>
<text x="978.6" y="451.07" font-size="6.5" fill="#55565c" textLength="15.2" lengthAdjust="spacingAndGlyphs">40.00</text>
<path d="M973.5 471.40h3" stroke="#77777b" stroke-width="0.8"/>
<text x="978.6" y="473.70" font-size="6.5" fill="#55565c" textLength="15.2" lengthAdjust="spacingAndGlyphs">30.00</text>
<rect x="981.5" y="36.8" width="19" height="9.4" rx="2" fill="#fff" stroke="#e0e0ea" stroke-width="0.8"/>
<text x="991" y="43.9" font-size="6.5" fill="#55565c" text-anchor="middle" textLength="13.8" lengthAdjust="spacingAndGlyphs">USDT</text>
<rect x="973.5" y="114.3" width="34.89999999999998" height="9.700000000000003" fill="#6b9f82"/>
<text x="978.6" y="121.50" font-size="6.6" font-weight="bold" fill="#fff" fill-opacity="1" textLength="24.699999999999932" lengthAdjust="spacingAndGlyphs">11447.59</text>
<path d="M973.5 119.15h3" stroke="#fff" stroke-width="0.8"/>
<rect x="977.2" y="124.5" width="31.199999999999932" height="9.0" fill="#6b9f82"/>
<text x="979.8" y="131.35" font-size="6.6" font-weight="bold" fill="#fff" fill-opacity="0.8" textLength="23.800000000000068" lengthAdjust="spacingAndGlyphs">07:27:20</text>
<rect x="973.5" y="134" width="34.89999999999998" height="9.400000000000006" fill="#9a2ff5"/>
<text x="978.6" y="141.05" font-size="6.6" font-weight="bold" fill="#fff" fill-opacity="1" textLength="24.699999999999932" lengthAdjust="spacingAndGlyphs">11165.00</text>
<path d="M973.5 138.7h3" stroke="#fff" stroke-width="0.8"/>
<rect x="974.1" y="143.9" width="34.299999999999955" height="9.0" fill="#3399ee"/>
<text x="978.6" y="150.75" font-size="6.6" font-weight="bold" fill="#fff" fill-opacity="1" textLength="24.699999999999932" lengthAdjust="spacingAndGlyphs">11137.94</text>
<path d="M974.1 148.4h3" stroke="#fff" stroke-width="0.8"/>
<rect x="954.3" y="143.9" width="18.100000000000023" height="9.0" fill="#3399ee"/>
<text x="958.6" y="150.75" font-size="6.6" font-weight="bold" fill="#fff" fill-opacity="1" textLength="11.399999999999977" lengthAdjust="spacingAndGlyphs">EMA</text>
<rect x="974.1" y="229.4" width="30.399999999999977" height="9.599999999999994" fill="#e0215f"/>
<text x="978.6" y="236.55" font-size="6.6" font-weight="bold" fill="#fff" fill-opacity="1" textLength="21.399999999999977" lengthAdjust="spacingAndGlyphs">9788.16</text>
<path d="M974.1 234.2h3" stroke="#fff" stroke-width="0.8"/>
<rect x="957.3" y="229.4" width="15.100000000000023" height="9.599999999999994" fill="#e0215f"/>
<text x="961.7" y="236.55" font-size="6.6" font-weight="bold" fill="#fff" fill-opacity="1" textLength="8.099999999999909" lengthAdjust="spacingAndGlyphs">MA</text>
<rect x="974.1" y="320.2" width="27.699999999999932" height="9.400000000000034" fill="#168a25"/>
<text x="978.6" y="327.25" font-size="6.6" font-weight="bold" fill="#fff" fill-opacity="1" textLength="18.899999999999977" lengthAdjust="spacingAndGlyphs">9.369K</text>
<path d="M974.1 324.9h3" stroke="#fff" stroke-width="0.8"/>
<rect x="945.1" y="320.2" width="27.299999999999955" height="9.400000000000034" fill="#168a25"/>
<text x="949.5" y="327.25" font-size="6.6" font-weight="bold" fill="#fff" fill-opacity="1" textLength="20.299999999999955" lengthAdjust="spacingAndGlyphs">Volume</text>
<rect x="974.1" y="396" width="24.5" height="9.100000000000023" fill="#8f1a9c"/>
<text x="978.6" y="402.90" font-size="6.6" font-weight="bold" fill="#fff" fill-opacity="1" textLength="15.399999999999977" lengthAdjust="spacingAndGlyphs">61.36</text>
<path d="M974.1 400.5h3" stroke="#fff" stroke-width="0.8"/>
<rect x="957.7" y="396" width="14.699999999999932" height="9.100000000000023" fill="#8f1a9c"/>
<text x="961.8" y="402.90" font-size="6.6" font-weight="bold" fill="#fff" fill-opacity="1" textLength="8.200000000000045" lengthAdjust="spacingAndGlyphs">RSI</text>
<path d="M42.15 479.0v2.5" stroke="#77777b" stroke-width="0.8"/>
<text x="42.15" y="489.6" font-size="6.1" fill="#55565c" text-anchor="middle">20</text>
<path d="M108.12 479.0v2.5" stroke="#77777b" stroke-width="0.8"/>
<text x="108.12" y="489.6" font-size="6.1" fill="#55565c" text-anchor="middle">27</text>
<path d="M155.25 479.0v2.5" stroke="#77777b" stroke-width="0.8"/>
<text x="155.25" y="489.6" font-size="6.1" fill="#55565c" text-anchor="middle">Aug</text>
<path d="M240.07 479.0v2.5" stroke="#77777b" stroke-width="0.8"/>
<text x="240.07" y="489.6" font-size="6.1" fill="#55565c" text-anchor="middle">10</text>
<path d="M306.05 479.0v2.5" stroke="#77777b" stroke-width="0.8"/>
<text x="306.05" y="489.6" font-size="6.1" fill="#55565c" text-anchor="middle">17</text>
<path d="M372.02 479.0v2.5" stroke="#77777b" stroke-width="0.8"/>
<text x="372.02" y="489.6" font-size="6.1" fill="#55565c" text-anchor="middle">24</text>
<path d="M447.42 479.0v2.5" stroke="#77777b" stroke-width="0.8"/>
<text x="447.42" y="489.6" font-size="6.1" fill="#55565c" text-anchor="middle">Sep</text>
<path d="M503.97 479.0v2.5" stroke="#77777b" stroke-width="0.8"/>
<text x="503.97" y="489.6" font-size="6.1" fill="#55565c" text-anchor="middle">7</text>
<path d="M569.95 479.0v2.5" stroke="#77777b" stroke-width="0.8"/>
<text x="569.95" y="489.6" font-size="6.1" fill="#55565c" text-anchor="middle">14</text>
<path d="M635.92 479.0v2.5" stroke="#77777b" stroke-width="0.8"/>
<text x="635.92" y="489.6" font-size="6.1" fill="#55565c" text-anchor="middle">21</text>
<path d="M683.05 479.0v2.5" stroke="#77777b" stroke-width="0.8"/>
<text x="683.05" y="489.6" font-size="6.1" fill="#55565c" text-anchor="middle">26</text>
<path d="M730.17 479.0v2.5" stroke="#77777b" stroke-width="0.8"/>
<text x="730.17" y="489.6" font-size="6.1" fill="#55565c" text-anchor="middle">Oct</text>
<path d="M777.30 479.0v2.5" stroke="#77777b" stroke-width="0.8"/>
<text x="777.30" y="489.6" font-size="6.1" fill="#55565c" text-anchor="middle">6</text>
<path d="M833.85 479.0v2.5" stroke="#77777b" stroke-width="0.8"/>
<text x="833.85" y="489.6" font-size="6.1" fill="#55565c" text-anchor="middle">12</text>
<path d="M899.82 479.0v2.5" stroke="#77777b" stroke-width="0.8"/>
<text x="899.82" y="489.6" font-size="6.1" fill="#55565c" text-anchor="middle">19</text>
<path d="M965.80 479.0v2.5" stroke="#77777b" stroke-width="0.8"/>
<text x="965.80" y="489.6" font-size="6.1" fill="#55565c" text-anchor="middle">26</text>
<text x="16.7" y="44.6" font-size="7" font-weight="bold" fill="#5a5b61" textLength="92" lengthAdjust="spacingAndGlyphs">Bitcoin / Tether, 1D, HITBTC</text>
<text x="16.7" y="54.8" font-size="7" fill="#5d5e64" textLength="10" lengthAdjust="spacingAndGlyphs">Vol</text>
<text x="16.7" y="64.2" font-size="7" fill="#5d5e64" textLength="56.5" lengthAdjust="spacingAndGlyphs">MA (200, close, 0)</text>
<text x="16.7" y="73.5" font-size="7" fill="#5d5e64" textLength="56.5" lengthAdjust="spacingAndGlyphs">EMA (20, close, 0)</text>
<text x="16.7" y="350.3" font-size="7" fill="#5d5e64" textLength="43.5" lengthAdjust="spacingAndGlyphs">RSI (14, close)</text>
<text x="11.8" y="18.1" font-size="7.1" font-weight="bold" fill="#2f3035" textLength="41.80" lengthAdjust="spacingAndGlyphs">ranadagger1</text>
<text x="56.1" y="18.1" font-size="7.1" font-weight="normal" fill="#2f3035" textLength="28.80" lengthAdjust="spacingAndGlyphs">published</text>
<text x="87" y="18.1" font-size="7.1" font-weight="normal" fill="#2f3035" textLength="7.00" lengthAdjust="spacingAndGlyphs">on</text>
<text x="96.5" y="18.1" font-size="7.1" font-weight="normal" fill="#2f3035" textLength="57.00" lengthAdjust="spacingAndGlyphs">TradingView.com,</text>
<text x="156" y="18.1" font-size="7.1" font-weight="normal" fill="#2f3035" textLength="24.75" lengthAdjust="spacingAndGlyphs">October</text>
<text x="183.9" y="18.1" font-size="7.1" font-weight="normal" fill="#2f3035" textLength="8.00" lengthAdjust="spacingAndGlyphs">18,</text>
<text x="195.4" y="18.1" font-size="7.1" font-weight="normal" fill="#2f3035" textLength="15.60" lengthAdjust="spacingAndGlyphs">2020</text>
<text x="213.5" y="18.1" font-size="7.1" font-weight="normal" fill="#2f3035" textLength="26.90" lengthAdjust="spacingAndGlyphs">16:32:46</text>
<text x="243.2" y="18.1" font-size="7.1" font-weight="normal" fill="#2f3035" textLength="11.80" lengthAdjust="spacingAndGlyphs">UTC</text>
<text x="11.8" y="27.7" font-size="7.1" font-weight="bold" fill="#2f3035" textLength="57.70" lengthAdjust="spacingAndGlyphs">HITBTC:BTCUSDT,</text>
<text x="72" y="27.7" font-size="7.1" font-weight="bold" fill="#2f3035" textLength="8.30" lengthAdjust="spacingAndGlyphs">1D</text>
<text x="83.9" y="27.7" font-size="7.1" font-weight="normal" fill="#2f3035" textLength="29.10" lengthAdjust="spacingAndGlyphs">11447.59</text>
<path d="M114.6 27.6L117.5 22.4L120.4 27.6Z" fill="#3aa99b"/>
<text x="122.9" y="27.7" font-size="7.1" font-weight="normal" fill="#2f3035" textLength="21.10" lengthAdjust="spacingAndGlyphs">+86.30</text>
<text x="146.6" y="27.7" font-size="7.1" font-weight="normal" fill="#2f3035" textLength="27.30" lengthAdjust="spacingAndGlyphs">(+0.76%)</text>
<text x="177" y="27.7" font-size="7.1" font-weight="bold" fill="#2f3035" textLength="6.50" lengthAdjust="spacingAndGlyphs">O:</text>
<text x="185" y="27.7" font-size="7.1" font-weight="normal" fill="#3aa99b" textLength="29.10" lengthAdjust="spacingAndGlyphs">11360.81</text>
<text x="217" y="27.7" font-size="7.1" font-weight="bold" fill="#2f3035" textLength="7.10" lengthAdjust="spacingAndGlyphs">H:</text>
<text x="225" y="27.7" font-size="7.1" font-weight="normal" fill="#3aa99b" textLength="29.10" lengthAdjust="spacingAndGlyphs">11495.40</text>
<text x="257" y="27.7" font-size="7.1" font-weight="bold" fill="#2f3035" textLength="5.20" lengthAdjust="spacingAndGlyphs">L:</text>
<text x="263" y="27.7" font-size="7.1" font-weight="normal" fill="#3aa99b" textLength="29.00" lengthAdjust="spacingAndGlyphs">11345.55</text>
<text x="295" y="27.7" font-size="7.1" font-weight="bold" fill="#2f3035" textLength="5.50" lengthAdjust="spacingAndGlyphs">C:</text>
<text x="301.5" y="27.7" font-size="7.1" font-weight="normal" fill="#3aa99b" textLength="29.60" lengthAdjust="spacingAndGlyphs">11447.59</text>
<path d="M12.3 507.6Q11.6 504.4 14.6 503.6Q15.2 500 18.9 499.9Q22 499.9 23.2 502.8Q26.2 503.2 26 506Q25.8 507.7 24 507.7H13.2Z" fill="#2f96f0"/>
<path d="M13.6 505.3L16.6 502.6L19.6 505.9L21.6 503.2L24.3 505.8" fill="none" stroke="#fff" stroke-width="0.9" stroke-linejoin="round"/>
<text x="27.3" y="506.6" font-size="7.6" fill="#3b3c42" textLength="39.8" lengthAdjust="spacingAndGlyphs">TradingView</text>
<text transform="translate(832.00 507.7) scale(1.039 1)" font-size="29.6" font-weight="bold" fill="#000" stroke="#000" stroke-width="2.1">a</text>
<text transform="translate(851.75 507.7) scale(1.155 1)" font-size="29.6" font-weight="bold" fill="#000" stroke="#000" stroke-width="2.1">r</text>
<text transform="translate(866.30 507.7) scale(1.120 1)" font-size="29.6" font-weight="bold" fill="#000" stroke="#000" stroke-width="2.1">z</text>
<text transform="translate(885.23 507.7) scale(1.067 1)" font-size="29.6" font-weight="bold" fill="#000" stroke="#000" stroke-width="2.1">i</text>
<text transform="translate(894.53 507.7) scale(1.175 1)" font-size="29.6" font-weight="bold" fill="#000" stroke="#000" stroke-width="2.1">n</text>
<text transform="translate(917.05 507.7) scale(1.150 1)" font-size="29.6" font-weight="bold" fill="#000" stroke="#000" stroke-width="2.1">j</text>
<text transform="translate(928.20 507.7) scale(1.011 1)" font-size="29.6" font-weight="bold" fill="#000" stroke="#000" stroke-width="2.1">a</text>
<text transform="translate(949.05 507.7) scale(1.150 1)" font-size="29.6" font-weight="bold" fill="#000" stroke="#000" stroke-width="2.1">.</text>
<text transform="translate(960.18 507.7) scale(1.117 1)" font-size="29.6" font-weight="bold" fill="#000" stroke="#000" stroke-width="2.1">i</text>
<text transform="translate(969.91 507.7) scale(1.087 1)" font-size="29.6" font-weight="bold" fill="#000" stroke="#000" stroke-width="2.1">n</text>
<text transform="translate(991.80 507.7) scale(1.100 1)" font-size="29.6" font-weight="bold" fill="#000" stroke="#000" stroke-width="2.1">f</text>
<text transform="translate(1003.50 507.7) scale(1.033 1)" font-size="29.6" font-weight="bold" fill="#000" stroke="#000" stroke-width="2.1">o</text>
</svg></body></html>
